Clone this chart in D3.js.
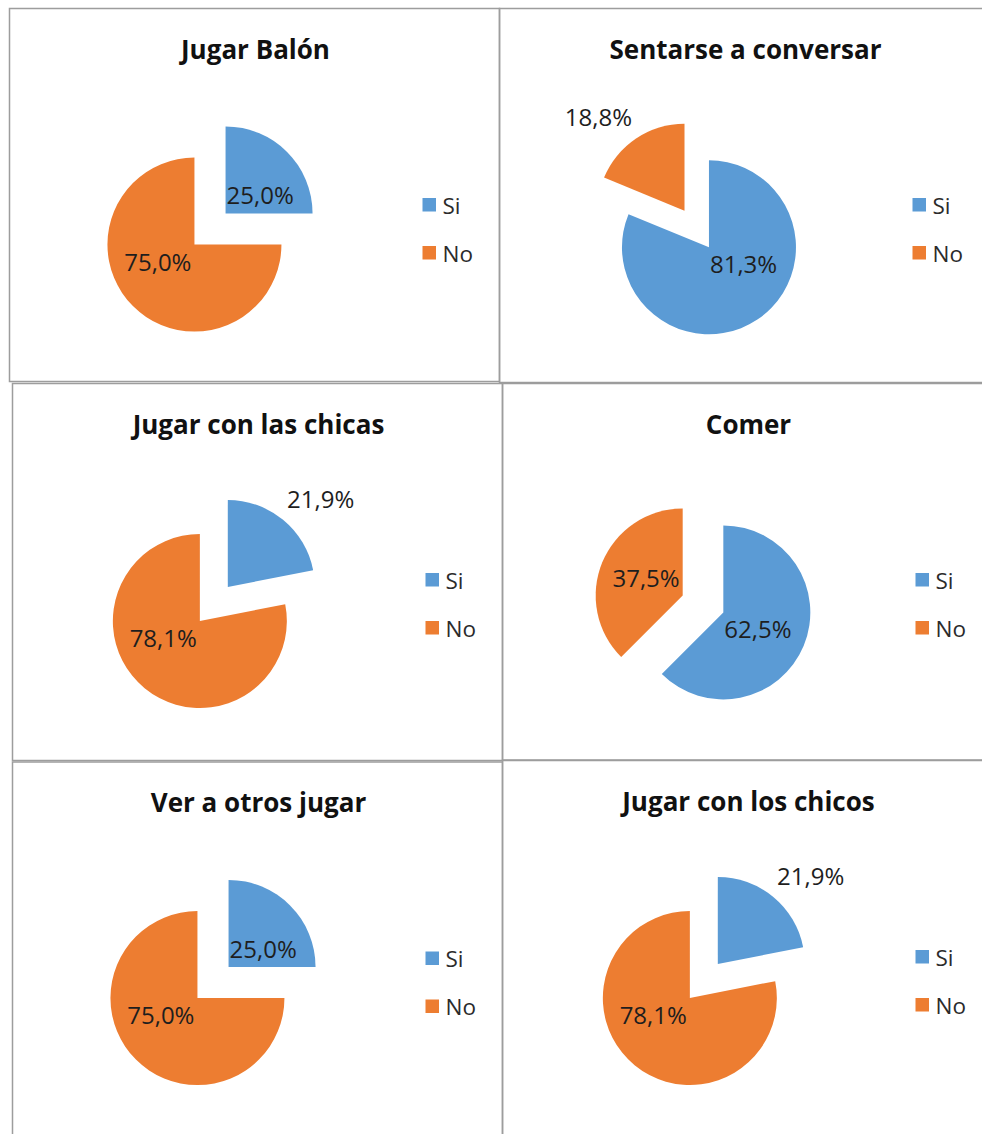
<!DOCTYPE html>
<html>
<head>
<meta charset="utf-8">
<script src="https://cdn.jsdelivr.net/npm/d3@7"></script>
<style>
  html, body { margin: 0; padding: 0; background: #fff; }
  svg { display: block; }
</style>
</head>
<body>
<svg id="chart" width="982" height="1134"></svg>
<script>
// datos de la encuesta (porcentajes)
const titles = ['Jugar Balón', 'Sentarse a conversar', 'Jugar con las chicas', 'Comer', 'Ver a otros jugar', 'Jugar con los chicos'];
const categories = ['Si', 'No'];
const siValues = [25.0, 81.3, 21.9, 62.5, 25.0, 21.9];
const noValues = [75.0, 18.8, 78.1, 37.5, 75.0, 78.1];

const colors = ['#5b9bd5', '#ed7d31'];

// marcos de cada gráfico (recortes de un documento)
const frames = [
  { x: 9.5, y: 8.5, w: 490, h: 373 },
  { x: 499.5, y: 8.5, w: 490, h: 374 },
  { x: 12.5, y: 383.5, w: 490, h: 377 },
  { x: 502.5, y: 383.5, w: 490, h: 376.5 },
  { x: 12.5, y: 762, w: 490, h: 400 },
  { x: 502.5, y: 760.5, w: 490, h: 400 }
];

const radius = 87;
const explode = 44;
const font = '"Open Sans", "DejaVu Sans", sans-serif';

const svg = d3.select('#chart');
const pie = d3.pie().sort(null).value(d => d.value);
const arc = d3.arc().innerRadius(0).outerRadius(radius);
const fmt = v => v.toFixed(1).replace('.', ',') + '%';

titles.forEach((title, i) => {
  const f = frames[i];
  const g = svg.append('g').attr('transform', `translate(${f.x},${f.y})`);

  g.append('rect')
   .attr('width', f.w)
   .attr('height', f.h)
   .attr('fill', 'none')
   .attr('stroke', '#9d9d9d')
   .attr('stroke-width', 1.5);

  g.append('text')
   .attr('x', 246)
   .attr('y', 50)
   .attr('text-anchor', 'middle')
   .style('font-family', font)
   .style('font-weight', 700)
   .style('font-size', '26px')
   .attr('fill', '#111')
   .text(title);

  const values = [siValues[i], noValues[i]];
  const data = categories.map((c, k) => ({ cat: c, value: values[k], color: colors[k] }));
  const arcs = pie(data);
  const minVal = d3.min(values);

  // desplazamiento de la porción más pequeña
  arcs.forEach(a => {
    const mid = (a.startAngle + a.endAngle) / 2;
    a.mid = mid;
    const d = a.data.value === minVal ? explode : 0;
    a.ox = Math.sin(mid) * d;
    a.oy = -Math.cos(mid) * d;
  });

  // caja que ocupa el pastel ya separado, para centrarlo
  let x0 = Infinity, x1 = -Infinity, y0 = Infinity, y1 = -Infinity;
  const addPt = (x, y) => { x0 = Math.min(x0, x); x1 = Math.max(x1, x); y0 = Math.min(y0, y); y1 = Math.max(y1, y); };
  arcs.forEach(a => {
    addPt(a.ox, a.oy);
    const angs = [a.startAngle, a.endAngle];
    for (let q = 0; q <= 4; q++) {
      const t = q * Math.PI / 2;
      if (t > a.startAngle && t < a.endAngle) angs.push(t);
    }
    angs.forEach(t => addPt(a.ox + Math.sin(t) * radius, a.oy - Math.cos(t) * radius));
  });
  const cx = 200.5 - (x0 + x1) / 2;
  const cy = 220.5 - (y0 + y1) / 2;

  const pg = g.append('g').attr('transform', `translate(${cx},${cy})`);

  pg.selectAll('path')
    .data(arcs)
    .enter()
    .append('path')
    .attr('d', arc)
    .attr('transform', a => `translate(${a.ox},${a.oy})`)
    .attr('fill', a => a.data.color);

  // etiquetas: dentro junto al vértice, o fuera si la porción es pequeña
  pg.selectAll('.lbl')
    .data(arcs)
    .enter()
    .append('text')
    .attr('class', 'lbl')
    .style('font-family', font)
    .style('font-size', '24px')
    .attr('fill', '#1e1e1e')
    .each(function (a) {
      const right = Math.sin(a.mid) >= 0;
      const up = -Math.cos(a.mid) < 0;
      const outside = a.data.value < 25;
      let px = a.ox, py = a.oy, dx, dy;
      if (outside) {
        px += Math.sin(a.mid) * radius;
        py += -Math.cos(a.mid) * radius;
        dx = right ? 4 : -4;
        dy = up ? -12 : 29;
      } else {
        dx = right ? 1 : -3;
        dy = up ? -9 : 26;
      }
      d3.select(this)
        .attr('x', px + dx)
        .attr('y', py + dy)
        .attr('text-anchor', right ? 'start' : 'end')
        .text(fmt(a.data.value));
    });

  // leyenda
  const lg = g.append('g').attr('transform', 'translate(413,189.5)');
  const item = lg.selectAll('g')
    .data(data)
    .enter()
    .append('g')
    .attr('transform', (d, k) => `translate(0,${k * 48})`);
  item.append('rect')
      .attr('width', 13.5)
      .attr('height', 13.5)
      .attr('fill', d => d.color);
  item.append('text')
      .attr('x', 20)
      .attr('y', 15.5)
      .style('font-family', font)
      .style('font-size', '22.5px')
      .attr('fill', '#2b2b2b')
      .text(d => d.cat);
});
</script>
</body>
</html>
